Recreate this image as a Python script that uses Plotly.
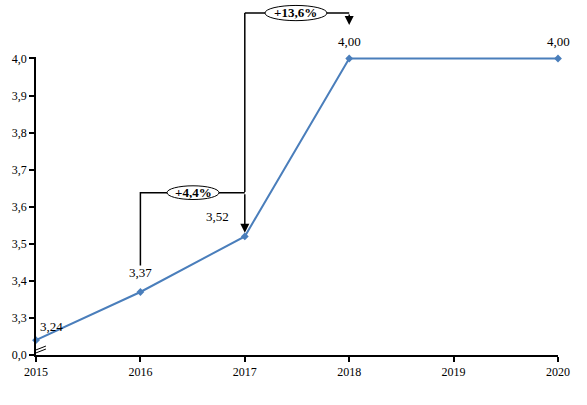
import plotly.graph_objects as go

years = [2015, 2016, 2017, 2018, 2020]
values = [3.24, 3.37, 3.52, 4.00, 4.00]
labels = ["3,24", "3,37", "3,52", "4,00", "4,00"]
y_tickvals = [3.2, 3.3, 3.4, 3.5, 3.6, 3.7, 3.8, 3.9, 4.0]
y_ticktext = ["0,0", "3,3", "3,4", "3,5", "3,6", "3,7", "3,8", "3,9", "4,0"]
x_ticks = [2015, 2016, 2017, 2018, 2019, 2020]
growth_labels = ["+4,4%", "+13,6%"]

# label offsets in pixels (style, not data)
label_dx = [15, 0, -27, 0, 0]
label_dy = [14, 19, 20, 17, 17]

FONT = "Liberation Serif"
BLUE = "#4a7ebb"

fig = go.Figure()
fig.add_trace(go.Scatter(
    x=years, y=values, mode="lines+markers",
    line=dict(color=BLUE, width=2),
    marker=dict(color=BLUE, size=6, symbol="diamond"),
    cliponaxis=False, hoverinfo="skip",
))

shapes = []
shapes.append(dict(type="path", xref="x", yref="y",
                   path="M 2016,3.4416 L 2016,3.6376 L 2017,3.6376",
                   line=dict(color="black", width=1.5)))
shapes.append(dict(type="line", xref="x", yref="paper",
                   x0=2017, x1=2017, y0=0.547, y1=1.1477,
                   line=dict(color="black", width=1.5)))
shapes.append(dict(type="line", xref="x", yref="paper",
                   x0=2017, x1=2018, y0=1.1477, y1=1.1477,
                   line=dict(color="black", width=1.5)))
shapes.append(dict(type="circle", xref="x", yref="y",
                   x0=2016.255, x1=2016.753, y0=3.6195, y1=3.6565,
                   line=dict(color="black", width=1), fillcolor="white"))
shapes.append(dict(type="circle", xref="x", yref="paper",
                   x0=2017.193, x1=2017.787, y0=1.122, y1=1.173,
                   line=dict(color="black", width=1), fillcolor="white"))
shapes.append(dict(type="line", xref="paper", yref="paper",
                   x0=0.0, x1=0.019, y0=0.017, y1=0.030,
                   line=dict(color="black", width=1)))
shapes.append(dict(type="line", xref="paper", yref="paper",
                   x0=0.0, x1=0.019, y0=0.007, y1=0.020,
                   line=dict(color="black", width=1)))

annotations = [
    dict(x=2016.504, y=3.638, xref="x", yref="y", text="<b>" + growth_labels[0] + "</b>",
         showarrow=False, yanchor="middle", xanchor="center",
         font=dict(family=FONT, size=13, color="black")),
    dict(x=2017.49, y=1.1477, xref="x", yref="paper", text="<b>" + growth_labels[1] + "</b>",
         showarrow=False, yanchor="middle", xanchor="center",
         font=dict(family=FONT, size=13, color="black")),
    dict(x=2017, y=3.53, xref="x", yref="y", text="", showarrow=True,
         ax=0, ay=-40, arrowhead=2, arrowsize=1.2, arrowwidth=1.5, arrowcolor="black"),
    dict(x=2018, y=1.1074, xref="x", yref="paper", text="", showarrow=True,
         ax=0, ay=-12, arrowhead=2, arrowsize=1.2, arrowwidth=1.5, arrowcolor="black"),
]
for xv, yv, t, dx, dy in zip(years, values, labels, label_dx, label_dy):
    annotations.append(dict(x=xv, y=yv, xref="x", yref="y", text=t, showarrow=False,
                            xanchor="center", yanchor="middle", xshift=dx, yshift=dy,
                            font=dict(family=FONT, size=13, color="black")))

fig.update_layout(
    width=587, height=405,
    margin=dict(l=36, r=29, t=57, b=50),
    paper_bgcolor="white", plot_bgcolor="white",
    showlegend=False,
    shapes=shapes, annotations=annotations,
    font=dict(family=FONT, size=12, color="black"),
    xaxis=dict(range=[2015, 2020], tickvals=x_ticks, ticktext=[str(t) for t in x_ticks],
               automargin=False,
               showgrid=False, zeroline=False, showline=True, linecolor="black", linewidth=2,
               ticks="outside", ticklen=5, tickcolor="black", tickwidth=1.5,
               tickfont=dict(family=FONT, size=12, color="black")),
    yaxis=dict(range=[3.2, 4.004], tickvals=y_tickvals, ticktext=y_ticktext,
               automargin=False,
               showgrid=False, zeroline=False, showline=True, linecolor="black", linewidth=1.5,
               ticks="outside", ticklen=5, tickcolor="black", tickwidth=1.5,
               tickfont=dict(family=FONT, size=12, color="black")),
)

fig.write_html("out.html", config={"displayModeBar": False},
               post_script="document.body.style.margin='0';")
